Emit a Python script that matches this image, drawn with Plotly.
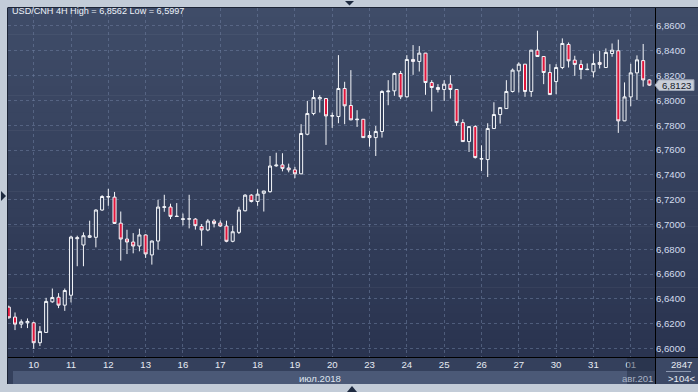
import plotly.graph_objects as go

# ---------------- data (USD/CNH, 4H bars) ----------------
opens = [6.6333, 6.6253, 6.6196, 6.6207, 6.6207, 6.6046, 6.6129, 6.6376, 6.6413, 6.6349,
         6.6429, 6.6885, 6.6834, 6.6896, 6.6896, 6.7116, 6.7220, 6.7220, 6.7010, 6.6882,
         6.6858, 6.6826, 6.6915, 6.6754, 6.6866, 6.7137, 6.7140, 6.7067, 6.7040, 6.7043,
         6.7043, 6.6984, 6.6955, 6.7027, 6.7011, 6.6987, 6.6864, 6.6936, 6.7110, 6.7236,
         6.7185, 6.7251, 6.7264, 6.7472, 6.7480, 6.7455, 6.7440, 6.7408, 6.7727, 6.7894,
         6.8012, 6.8015, 6.7873, 6.7870, 6.8096, 6.7959, 6.7844, 6.7848, 6.7717, 6.7700,
         6.7749, 6.8070, 6.8077, 6.8217, 6.8029, 6.8330, 6.8314, 6.8381, 6.8144, 6.8104,
         6.8088, 6.8131, 6.8088, 6.7821, 6.7668, 6.7789, 6.7526, 6.7523, 6.7773, 6.7886,
         6.7934, 6.8072, 6.8238, 6.8292, 6.8072, 6.8405, 6.8354, 6.8225, 6.8152, 6.8265,
         6.8451, 6.8325, 6.8290, 6.8248, 6.8230, 6.8306, 6.8265, 6.8378, 6.8400, 6.7835,
         6.8028, 6.8222, 6.8321, 6.8165]
highs = [6.6345, 6.6290, 6.6234, 6.6242, 6.6215, 6.6180, 6.6408, 6.6483, 6.6446, 6.6483,
         6.6909, 6.6909, 6.6936, 6.7030, 6.7122, 6.7236, 6.7287, 6.7262, 6.7104, 6.6957,
         6.6930, 6.6965, 6.6920, 6.6870, 6.7199, 6.7239, 6.7167, 6.7172, 6.7088, 6.7239,
         6.7051, 6.7003, 6.7043, 6.7043, 6.7032, 6.7030, 6.6990, 6.7142, 6.7244, 6.7244,
         6.7284, 6.7271, 6.7552, 6.7578, 6.7574, 6.7490, 6.7464, 6.7808, 6.7996, 6.8082,
         6.8042, 6.8018, 6.7902, 6.8365, 6.8150, 6.8244, 6.7921, 6.7850, 6.7754, 6.7794,
         6.8082, 6.8163, 6.8225, 6.8238, 6.8365, 6.8446, 6.8438, 6.8383, 6.8163, 6.8131,
         6.8163, 6.8204, 6.8090, 6.7848, 6.7790, 6.7800, 6.7638, 6.7816, 6.7985, 6.7944,
         6.8163, 6.8257, 6.8306, 6.8294, 6.8407, 6.8562, 6.8356, 6.8292, 6.8292, 6.8500,
         6.8467, 6.8360, 6.8325, 6.8298, 6.8378, 6.8400, 6.8419, 6.8459, 6.8490, 6.8145,
         6.8295, 6.8363, 6.8455, 6.8170]
lows = [6.6240, 6.6148, 6.6164, 6.6164, 6.5997, 6.6019, 6.6126, 6.6368, 6.6325, 6.6303,
        6.6371, 6.6663, 6.6663, 6.6890, 6.6815, 6.7110, 6.7150, 6.7003, 6.6708, 6.6761,
        6.6767, 6.6783, 6.6730, 6.6676, 6.6797, 6.7102, 6.7043, 6.7060, 6.6992, 6.6968,
        6.6958, 6.6828, 6.6945, 6.6976, 6.6979, 6.6856, 6.6856, 6.6923, 6.7105, 6.7177,
        6.7150, 6.7104, 6.7256, 6.7465, 6.7428, 6.7420, 6.7373, 6.7405, 6.7719, 6.7880,
        6.7902, 6.7641, 6.7778, 6.7816, 6.7808, 6.7840, 6.7786, 6.7698, 6.7627, 6.7552,
        6.7700, 6.7961, 6.8037, 6.8010, 6.8023, 6.8206, 6.8233, 6.8045, 6.7910, 6.8064,
        6.7996, 6.8015, 6.7794, 6.7666, 6.7584, 6.7531, 6.7431, 6.7382, 6.7771, 6.7813,
        6.7932, 6.8064, 6.8064, 6.8029, 6.8029, 6.8352, 6.8131, 6.8045, 6.8050, 6.8252,
        6.8265, 6.8198, 6.8171, 6.8244, 6.8185, 6.8257, 6.8263, 6.8352, 6.7738, 6.7833,
        6.7953, 6.8004, 6.8111, 6.8117]
closes = [6.6247, 6.6196, 6.6215, 6.6218, 6.6046, 6.6137, 6.6379, 6.6411, 6.6349, 6.6467,
          6.6898, 6.6892, 6.6909, 6.6909, 6.7116, 6.7225, 6.7225, 6.7008, 6.6882, 6.6858,
          6.6826, 6.6915, 6.6762, 6.6866, 6.7140, 6.7142, 6.7065, 6.7064, 6.7045, 6.7045,
          6.6990, 6.6955, 6.7027, 6.7008, 6.6987, 6.6864, 6.6941, 6.7116, 6.7236, 6.7185,
          6.7244, 6.7269, 6.7471, 6.7478, 6.7452, 6.7440, 6.7408, 6.7733, 6.7894, 6.8023,
          6.8023, 6.7875, 6.7877, 6.8096, 6.7956, 6.7843, 6.7848, 6.7700, 6.7700, 6.7749,
          6.8072, 6.8075, 6.8217, 6.8029, 6.8330, 6.8314, 6.8381, 6.8144, 6.8104, 6.8088,
          6.8131, 6.8088, 6.7821, 6.7668, 6.7789, 6.7539, 6.7531, 6.7773, 6.7886, 6.7942,
          6.8072, 6.8244, 6.8292, 6.8072, 6.8405, 6.8354, 6.8225, 6.8047, 6.8265, 6.8459,
          6.8319, 6.8290, 6.8249, 6.8251, 6.8298, 6.8290, 6.8387, 6.8405, 6.7835, 6.8028,
          6.8222, 6.8327, 6.8165, 6.8123]

day_labels = ["10", "11", "12", "13", "16", "17", "18", "19", "20",
              "23", "24", "25", "26", "27", "30", "31", "01"]
bars_per_day = 6
first_day_bar = 4
y_ticks = [6.60, 6.62, 6.64, 6.66, 6.68, 6.70, 6.72, 6.74, 6.76, 6.78, 6.80, 6.82, 6.84, 6.86]
title_text = "USD/CNH 4H"
month_label_1 = "июл.2018"
month_label_2 = "авг.201"
bars_total_text = "2847"

x_idx = list(range(len(opens)))
day_ticks = [first_day_bar + bars_per_day * k for k in range(len(day_labels))]

# ---------------- geometry helpers (pixel -> paper) ----------------
W, H = 698, 392
ML, MR, MT, MB = 8, 43, 8, 35
PW, PH = W - ML - MR, H - MT - MB


def px(x):
    return (x - ML) / PW


def py(y):
    return (H - MB - y) / PH


def fmt(v):
    return f"{v:.4f}".replace(".", ",")


BG = "#c3ccd8"
RED = "#e0163c"
WHITE = "#f4f6fa"
FS = 9.6

fig = go.Figure()
fig.add_trace(go.Candlestick(
    x=x_idx, open=opens, high=highs, low=lows, close=closes,
    increasing=dict(line=dict(color=WHITE, width=1), fillcolor="#34405c"),
    decreasing=dict(line=dict(color=WHITE, width=1), fillcolor=RED),
    whiskerwidth=0, hoverinfo="skip", showlegend=False,
))

shapes = []
# gradient panel
N = 40
top_c = (63, 76, 104)
bot_c = (42, 52, 80)
y0, y1 = 8, 357
for k in range(N):
    t = k / (N - 1)
    c = tuple(int(round(top_c[j] + (bot_c[j] - top_c[j]) * t)) for j in range(3))
    ya = y0 + (y1 - y0) * k / N
    yb = y0 + (y1 - y0) * (k + 1) / N + 0.6
    shapes.append(dict(type="rect", xref="paper", yref="paper", layer="below",
                       x0=px(8), x1=px(698), y0=py(ya), y1=py(yb),
                       fillcolor="rgb(%d,%d,%d)" % c, line=dict(width=0)))
# bottom axis bands
shapes.append(dict(type="rect", xref="paper", yref="paper", layer="below",
                   x0=px(8), x1=px(655), y0=py(357), y1=py(384),
                   fillcolor="#34405c", line=dict(width=0)))
shapes.append(dict(type="rect", xref="paper", yref="paper", layer="below",
                   x0=px(13), x1=px(655), y0=py(371), y1=py(384),
                   fillcolor="#4b5977", line=dict(width=0)))
shapes.append(dict(type="rect", xref="paper", yref="paper", layer="below",
                   x0=px(655), x1=px(698), y0=py(357), y1=py(384),
                   fillcolor="#3b4865", line=dict(width=0)))
# overlay box at the right end of the date axis
shapes.append(dict(type="rect", xref="paper", yref="paper", layer="above",
                   x0=px(627), x1=px(655), y0=py(357), y1=py(384),
                   fillcolor="rgba(30,40,62,0.45)", line=dict(width=0)))
# frame lines
for (xa, ya, xb, yb, col) in [
    (8, 7.5, 698, 7.5, "#1c2436"),
    (7.5, 7.5, 7.5, 384, "#1c2436"),
    (655.5, 8, 655.5, 384, "#000000"),
    (8, 357.5, 698, 357.5, "#000000"),
    (666, 371.5, 691, 371.5, "#8c98b0"),
]:
    shapes.append(dict(type="line", xref="paper", yref="paper", layer="above",
                       x0=px(xa), x1=px(xb), y0=py(ya), y1=py(yb),
                       line=dict(color=col, width=1)))


def tri(points, col):
    path = "M " + " L ".join("%f,%f" % (px(a), py(b)) for a, b in points) + " Z"
    return dict(type="path", xref="paper", yref="paper", layer="above", path=path,
                fillcolor=col, line=dict(width=0))


shapes.append(tri([(345, 1), (354, 1), (349.5, 5.5)], "#1e2a40"))
shapes.append(tri([(347, 392), (357, 392), (352, 386)], "#1e2a40"))
shapes.append(tri([(1, 191), (1, 201), (6, 196)], "#1e2a40"))

# last price marker
last = closes[-1]
shapes.append(dict(type="path", xref="paper", yref="y", layer="above",
                   path="M %f,%f L %f,%f L %f,%f L %f,%f L %f,%f Z" % (
                       px(655), last, px(659), last + 0.0043, px(694), last + 0.0043,
                       px(694), last - 0.0043, px(659), last - 0.0043),
                   fillcolor="#c9ced8", line=dict(color="#9aa3b4", width=1)))

annotations = [
    dict(text="%s High = %s Low = %s" % (title_text, fmt(max(highs)), fmt(min(lows))),
         xref="paper", yref="paper", x=px(10), y=py(11.5), xanchor="left", yanchor="middle",
         showarrow=False, font=dict(size=9.1, color="#eef2f8")),
    dict(text=fmt(last), xref="paper", yref="y", x=px(660), y=last, xanchor="left",
         yanchor="middle", showarrow=False, font=dict(size=FS, color="#141a28")),
    dict(text=month_label_1, xref="paper", yref="paper", x=px(343), y=py(378),
         xanchor="right", yanchor="middle", showarrow=False,
         font=dict(size=FS, color="#dfe5ef")),
    dict(text=month_label_2, xref="paper", yref="paper", x=px(655), y=py(378),
         xanchor="right", yanchor="middle", showarrow=False,
         font=dict(size=FS, color="#aab4c6")),
    dict(text=bars_total_text, xref="paper", yref="paper", x=px(682), y=py(364),
         xanchor="center", yanchor="middle", showarrow=False,
         font=dict(size=FS, color="#e6ebf3")),
    dict(text=">%d<" % len(opens), xref="paper", yref="paper", x=px(682), y=py(378),
         xanchor="center", yanchor="middle", showarrow=False,
         font=dict(size=FS, color="#e6ebf3")),
]

GRID = "rgba(110,126,158,0.55)"
fig.update_layout(
    width=W, height=H, margin=dict(l=ML, r=MR, t=MT, b=MB, pad=0),
    paper_bgcolor=BG, plot_bgcolor="rgba(0,0,0,0)",
    separators=",.",
    font=dict(family="Liberation Sans, Arial, sans-serif", size=FS, color="#e6ebf3"),
    shapes=shapes, annotations=annotations, showlegend=False,
    xaxis=dict(range=[-0.13, 103.9], tickvals=day_ticks, ticktext=day_labels,
               showgrid=True, gridcolor=GRID, griddash="3px,3px", gridwidth=1,
               zeroline=False, showline=False, ticks="", rangeslider=dict(visible=False),
               tickfont=dict(size=FS, color="#e6ebf3"), fixedrange=True),
    yaxis=dict(range=[6.5931, 6.8745], side="right", tickvals=y_ticks, tickformat=".4f",
               showgrid=True, gridcolor=GRID, griddash="3px,3px", gridwidth=1,
               zeroline=False, showline=False, ticks="",
               tickfont=dict(size=FS, color="#d3dcee"), fixedrange=True),
)

fig.write_html("out.html", config={"displayModeBar": False},
               post_script="document.body.style.margin='0';document.body.style.overflow='hidden';")
